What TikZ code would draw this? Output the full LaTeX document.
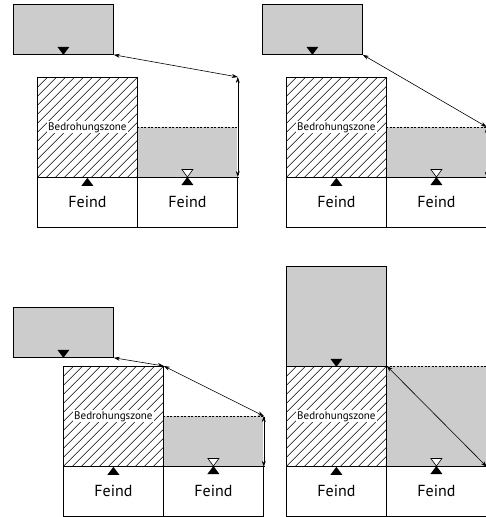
\documentclass[tikz,border=0pt]{standalone}
\usepackage{fontspec}
\setmainfont{PT Sans}
\usetikzlibrary{calc,arrows.meta}
\tikzset{
  pics/upmark/.style={code={\fill (0pt,0pt) -- (-6pt,-8pt) -- (6pt,-8pt) -- cycle;}},
  pics/downmark/.style={code={\fill (0pt,0pt) -- (-6pt,8pt) -- (6pt,8pt) -- cycle;}},
  pics/levelmark/.style={code={
    \draw[line width=0.6pt,fill=white] (0pt,0pt) -- (-5.5pt,7.5pt) -- (5.5pt,7.5pt) -- cycle;
    \fill (0pt,0pt) -- (-6pt,-8pt) -- (6pt,-8pt) -- cycle;}},
}
\begin{document}
\begin{tikzpicture}[x=1pt,y=-1pt,
  box/.style={draw, line width=0.8pt, rectangle, inner sep=0pt, anchor=north west, minimum width=100pt},
  half/.style={box, minimum height=50pt, font=\fontsize{16}{18}\selectfont},
  full/.style={box, minimum height=100pt},
  shade/.style={fill=gray!40},
  region/.style={half, shade, draw=none},
  hatchbox/.style={full, path picture={\foreach \k in {-13,...,12}{\draw[line width=0.55pt] ($(path picture bounding box.south west)+(\k*9pt,0pt)$) -- ++(120pt,120pt);}}},
  zonelabel/.style={fill=white, inner sep=1pt, font=\fontsize{11}{12}\selectfont},
  levelline/.style={line width=0.6pt, dash pattern=on 2pt off 1.5pt},
  dim/.style={line width=0.6pt, {Stealth[length=6pt,width=4pt]}-{Stealth[length=6pt,width=4pt]}},
  ]
\useasboundingbox (0,0) rectangle (486,517);

% ---------- panel 1 ----------
\node[region] (w1) at (137,127) {};
\node[half, shade] (g1) at (13,4) {};
\node[hatchbox] (h1) at (37,77) {};
\node[zonelabel] (l1) at (h1.center) {Bedrohungszone};
\node[half] (f1a) at (37,177) {Feind};
\node[half] (f1b) at (137,177) {Feind};
\draw[levelline] (w1.north west) -- (w1.north east) -- (w1.south east);
\coordinate (c1) at (f1b.east |- h1.north);
\draw[dim] (g1.south east) -- (c1);
\draw[dim] (c1) -- (f1b.north east);
\pic at (g1.south) {downmark};
\pic at (h1.south) {upmark};
\pic at (f1b.north) {levelmark};

% ---------- panel 2 ----------
\node[region] (w2) at (386,127) {};
\node[half, shade] (g2) at (262,4) {};
\node[hatchbox] (h2) at (286,77) {};
\node[zonelabel] (l2) at (h2.center) {Bedrohungszone};
\node[half] (f2a) at (286,177) {Feind};
\node[half] (f2b) at (386,177) {Feind};
\draw[levelline] (w2.north west) -- (w2.north east) -- (w2.south east);
\draw[dim] (g2.south east) -- (w2.north east);
\draw[dim] (w2.north east) -- (w2.south east);
\pic at (g2.south) {downmark};
\pic at (h2.south) {upmark};
\pic at (f2b.north) {levelmark};

% ---------- panel 3 ----------
\node[region] (w3) at (163,416) {};
\node[half, shade] (g3) at (13,307) {};
\node[hatchbox] (h3) at (63,366) {};
\node[zonelabel] (l3) at (h3.center) {Bedrohungszone};
\node[half] (f3a) at (63,466) {Feind};
\node[half] (f3b) at (163,466) {Feind};
\draw[levelline] (w3.north west) -- (w3.north east) -- (w3.south east);
\draw[dim] (g3.south east) -- (h3.north east);
\draw[dim] (h3.north east) -- (w3.north east);
\draw[dim] (w3.north east) -- (w3.south east);
\pic at (g3.south) {downmark};
\pic at (h3.south) {upmark};
\pic at (f3b.north) {levelmark};

% ---------- panel 4 ----------
\node[region, minimum height=100pt] (w4) at (386,366) {};
\node[full, shade] (g4) at (286,266) {};
\node[hatchbox] (h4) at (286,366) {};
\node[zonelabel] (l4) at (h4.center) {Bedrohungszone};
\node[half] (f4a) at (286,466) {Feind};
\node[half] (f4b) at (386,466) {Feind};
\draw[levelline] (w4.north west) -- (w4.north east) -- (w4.south east);
\draw[dim] (h4.north east) -- (w4.south east);
\pic at (g4.south) {downmark};
\pic at (h4.south) {upmark};
\pic at (f4b.north) {levelmark};
\end{tikzpicture}
\end{document}
